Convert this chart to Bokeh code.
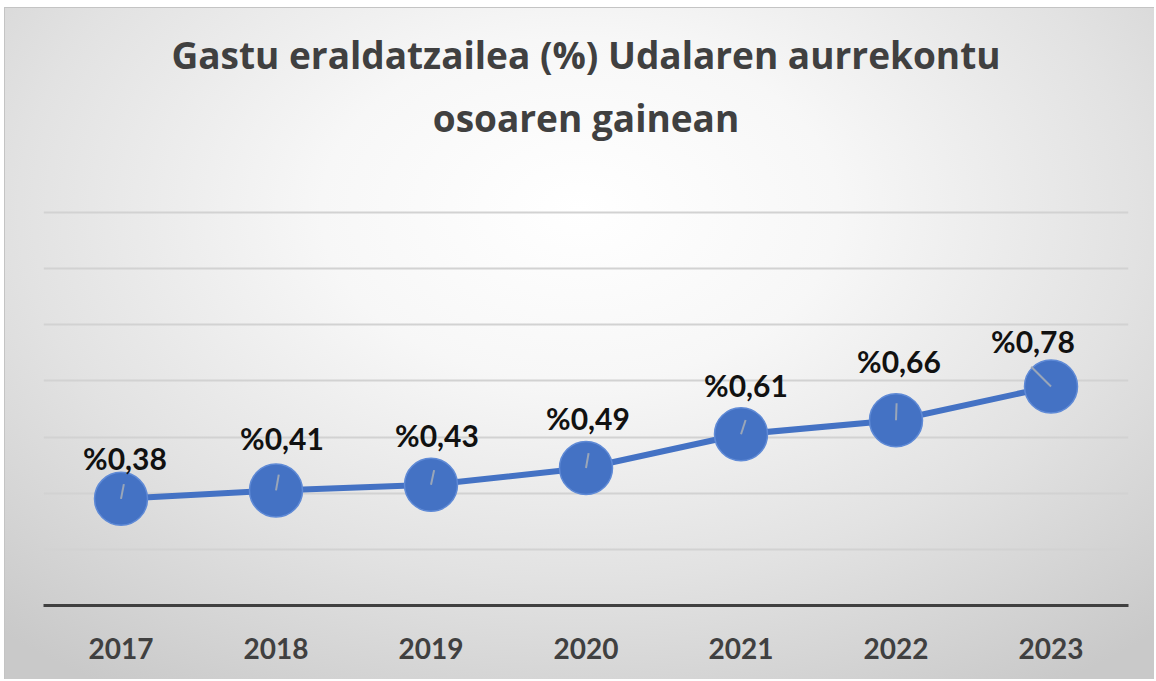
import math
from bokeh.plotting import figure
from bokeh.models import ColumnDataSource, FixedTicker, Label
from bokeh.core.properties import value
from bokeh.embed import file_html
from bokeh.resources import INLINE

# ---- data ----
years = ["2017", "2018", "2019", "2020", "2021", "2022", "2023"]
values = [0.38, 0.41, 0.43, 0.49, 0.61, 0.66, 0.78]
labels = ["%0,38", "%0,41", "%0,43", "%0,49", "%0,61", "%0,66", "%0,78"]
grid_ticks = [0.2, 0.4, 0.6, 0.8, 1.0, 1.2, 1.4]
title_lines = ["Gastu eraldatzailea (%) Udalaren aurrekontu", "osoaren gainean"]

# styles: data-label pixel offsets and small leader lines (degrees / px)
label_dx = [4, 6, 6, 2, 5, 3, -18]
label_dy = [-41, -52, -50, -50, -49, -59, -46]
leader_angles = [79, 80, 78, 80, 72, 88, 135]
leader_lengths = [15, 16, 15, 15, 15, 17, 28]

BLUE = "#4472C4"
DARK = "#404040"
FONT = "Lato"
TFONT = "Open Sans"

src = ColumnDataSource(dict(
    x=years, y=values, label=labels,
    ang=[math.radians(a) for a in leader_angles],
    ln=leader_lengths, dx=label_dx, dy=label_dy,
))

# the frame extends up to the top of the chart so the title fits inside it
p = figure(
    x_range=years, y_range=(0, 2.127),
    width=1150, height=672,
    output_backend="svg", toolbar_location=None,
    min_border_left=38, min_border_right=27,
    min_border_bottom=75, min_border_top=0,
)
p.styles = {
    "margin-left": "4px",
    "margin-top": "7px",
    "border-left": "1px solid #c4c4c4",
    "border-top": "1px solid #c4c4c4",
    "background": "radial-gradient(ellipse 75% 85% at 50% 30%, #ffffff 0%, #f7f7f7 30%, #e2e2e2 65%, #c9c9c9 100%)",
}
p.background_fill_alpha = 0
p.border_fill_alpha = 0
p.outline_line_color = None
p.title.visible = False

# title: two centred lines
for txt, ty in [(title_lines[0], 1.962), (title_lines[1], 1.740)]:
    p.add_layout(Label(
        x=3.5, y=ty, text=txt,
        text_font=TFONT, text_font_size="37px", text_font_style="bold",
        text_color=DARK, text_align="center", text_baseline="alphabetic",
    ))

# axes
p.yaxis.visible = False
p.xaxis.axis_line_color = DARK
p.xaxis.axis_line_width = 3
p.xaxis.major_tick_line_color = None
p.xaxis.minor_tick_line_color = None
p.xaxis.major_label_text_font = FONT
p.xaxis.major_label_text_font_size = "28px"
p.xaxis.major_label_text_font_style = "bold"
p.xaxis.major_label_text_color = DARK
p.xaxis.major_label_standoff = 26

p.xgrid.grid_line_color = None
p.ygrid.ticker = FixedTicker(ticks=grid_ticks)
p.ygrid.grid_line_color = "#d2d2d2"
p.ygrid.grid_line_width = 2

# series
p.line("x", "y", source=src, line_color=BLUE, line_width=6)
p.scatter("x", "y", source=src, size=53, fill_color=BLUE,
          line_color="#5f8ad6", line_width=1.5)
p.ray("x", "y", source=src, length="ln", length_units="screen",
      angle="ang", line_color="#9aa6b8", line_width=2)

p.text("x", "y", text="label", source=src,
       text_font=value(FONT), text_font_size="30px", text_font_style="bold",
       text_color="#111111", text_align="center", text_baseline="alphabetic",
       x_offset="dx", y_offset="dy")

open("out.html", "w").write(file_html(p, INLINE))
